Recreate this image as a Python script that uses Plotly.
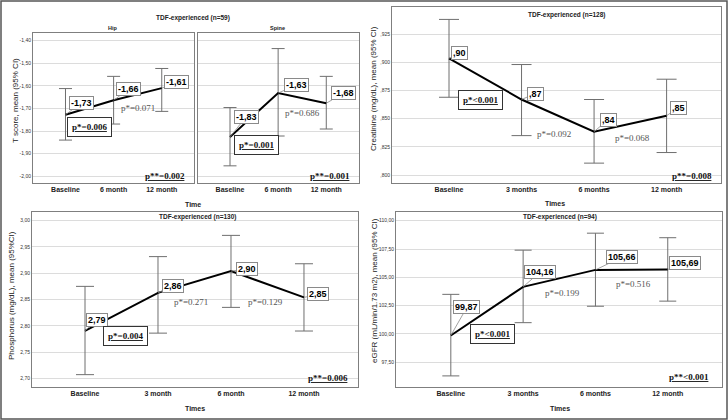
import plotly.graph_objects as go

W, H = 728, 420

# ---------------- data ----------------
tscore_cats = ["Baseline", "6 month", "12 month"]
hip_mean = [-1.728, -1.664, -1.610]
hip_hi = [-1.612, -1.558, -1.523]
hip_lo = [-1.840, -1.769, -1.713]
hip_labels = ["-1,73", "-1,66", "-1,61"]

spine_mean = [-1.826, -1.632, -1.677]
spine_hi = [-1.696, -1.435, -1.558]
spine_lo = [-1.954, -1.822, -1.791]
spine_labels = ["-1,83", "-1,63", "-1,68"]

tscore_ticks = [-2.0, -1.9, -1.8, -1.7, -1.6, -1.5, -1.4]
tscore_ticktext = ["-2,00", "-1,90", "-1,80", "-1,70", "-1,60", "-1,50", "-1,40"]

creat_cats = ["Baseline", "3 months", "6 months", "12 month"]
creat_mean = [0.9035, 0.867, 0.8385, 0.8527]
creat_hi = [0.938, 0.898, 0.867, 0.885]
creat_lo = [0.869, 0.835, 0.8106, 0.820]
creat_labels = [",90", ",87", ",84", ",85"]
creat_ticks = [0.800, 0.825, 0.850, 0.875, 0.900, 0.925]
creat_ticktext = [",800", ",825", ",850", ",875", ",900", ",925"]

phos_cats = ["Baseline", "3 month", "6 month", "12 month"]
phos_mean = [2.7905, 2.8626, 2.904, 2.854]
phos_hi = [2.875, 2.9316, 2.972, 2.918]
phos_lo = [2.707, 2.786, 2.835, 2.790]
phos_labels = ["2,79", "2,86", "2,90", "2,85"]
phos_ticks = [2.70, 2.75, 2.80, 2.85, 2.90, 2.95, 3.00]
phos_ticktext = ["2,70", "2,75", "2,80", "2,85", "2,90", "2,95", "3,00"]

egfr_cats = ["Baseline", "3 months", "6 months", "12 month"]
egfr_mean = [99.87, 104.16, 105.66, 105.69]
egfr_hi = [103.5, 107.4, 108.9, 108.5]
egfr_lo = [96.3, 101.0, 102.45, 102.9]
egfr_labels = ["99,87", "104,16", "105,66", "105,69"]
egfr_ticks = [97.5, 100.0, 102.5, 105.0, 107.5, 110.0]
egfr_ticktext = ["97,50", "100,00", "102,50", "105,00", "107,50", "110,00"]

# ---------------- helpers ----------------
def PX(x):
    return x / W


def PY(y):
    return 1 - y / H


SANS = "Liberation Sans, Arial, sans-serif"
SERIF = "Liberation Serif, Times New Roman, serif"
BOXC = "#7f7f7f"
GRID = "#dcdcdc"

fig = go.Figure()
layout = dict(
    width=W, height=H, margin=dict(l=0, r=0, t=0, b=0),
    paper_bgcolor="white", plot_bgcolor="white", showlegend=False,
    separators=",.",
)
annotations = []


def panel(idx, xdom, ydom, xrange, yrange, cats, yticks, yticktext, mean, hi, lo,
          labels, offsets, cap, showy=True):
    sfx = "" if idx == 1 else str(idx)
    xa, ya = "x" + sfx, "y" + sfx
    layout["xaxis" + sfx] = dict(
        domain=[PX(xdom[0]), PX(xdom[1])], range=xrange, anchor=ya,
        tickvals=list(range(len(cats))), ticktext=cats, showgrid=False,
        zeroline=False, showline=True, mirror=True, linecolor=BOXC, linewidth=1,
        ticks="", tickfont=dict(family=SANS, size=7, color="#222", weight="bold"),
        fixedrange=True,
    )
    layout["yaxis" + sfx] = dict(
        domain=[PY(ydom[1]), PY(ydom[0])], range=yrange, anchor=xa,
        tickvals=yticks, ticktext=yticktext, showticklabels=showy,
        showgrid=True, gridcolor=GRID, gridwidth=1, zeroline=False,
        showline=True, mirror=True, linecolor=BOXC, linewidth=1, ticks="",
        tickfont=dict(family=SANS, size=5, color="#333"), fixedrange=True,
    )
    fig.add_trace(go.Scatter(
        x=list(range(len(cats))), y=mean, mode="lines",
        line=dict(color="black", width=2),
        error_y=dict(type="data", symmetric=False,
                     array=[h - m for h, m in zip(hi, mean)],
                     arrayminus=[m - l for m, l in zip(mean, lo)],
                     color="#6f6f6f", thickness=1, width=cap),
        xaxis=xa, yaxis=ya, hoverinfo="skip",
    ))
    for i, (lab, off) in enumerate(zip(labels, offsets)):
        annotations.append(dict(
            x=i, y=mean[i], xref=xa, yref=ya, text="<b>" + lab + "</b>",
            showarrow=True, ax=off[0], ay=off[1], arrowhead=0, arrowwidth=0.8,
            arrowcolor="#8a8a8a", standoff=0, bordercolor="#8a8a8a",
            borderwidth=1, borderpad=1, bgcolor="white",
            font=dict(family=SANS, size=9, color="black"),
        ))


panel(1, (33, 194), (33, 183), [-0.675, 2.67], [-2.03, -1.366], tscore_cats,
      tscore_ticks, tscore_ticktext, hip_mean, hip_hi, hip_lo, hip_labels,
      [(16, -12), (15, -11), (15, -6)], 6.5)
panel(2, (198, 359), (33, 183), [-0.665, 2.68], [-2.03, -1.366], tscore_cats,
      tscore_ticks, tscore_ticktext, spine_mean, spine_hi, spine_lo, spine_labels,
      [(16, -20), (18, -8), (17, -10)], 6.5, showy=False)
panel(3, (392, 721), (7, 183), [-0.786, 3.75], [0.793, 0.949], creat_cats,
      creat_ticks, creat_ticktext, creat_mean, creat_hi, creat_lo, creat_labels,
      [(10, -5), (14, -6), (14, -12), (12, -8)], 10)
panel(4, (32, 358), (212, 387), [-0.726, 3.74], [2.6835, 3.0165], phos_cats,
      phos_ticks, phos_ticktext, phos_mean, phos_hi, phos_lo, phos_labels,
      [(12, -11), (15, -7), (16, -2), (14, -3)], 9)
panel(5, (396, 722), (212, 387), [-0.758, 3.75], [95.32, 110.77], egfr_cats,
      egfr_ticks, egfr_ticktext, egfr_mean, egfr_hi, egfr_lo, egfr_labels,
      [(16, -28), (17, -15), (27, -13), (17, -7)], 8.5)


def text(x, y, t, size=7, bold=True, family=SANS, color="#222", angle=0,
         xanchor="center"):
    annotations.append(dict(
        x=PX(x), y=PY(y), xref="paper", yref="paper", showarrow=False,
        text=("<b>" + t + "</b>") if bold else t, textangle=angle,
        xanchor=xanchor, yanchor="middle",
        font=dict(family=family, size=size, color=color),
    ))


def pbox(x, y, t):
    annotations.append(dict(
        x=PX(x), y=PY(y), xref="paper", yref="paper", showarrow=False,
        text="<b><u>" + t + "</u></b>", xanchor="center", yanchor="middle",
        bordercolor="#333", borderwidth=1, borderpad=4, bgcolor="white",
        font=dict(family=SERIF, size=9, color="#111"),
    ))


# titles
text(193, 18, "TDF-experienced (n=59)", size=6.5)
text(113, 28, "Hip", size=5.5)
text(277, 28, "Spine", size=5.5)
text(566, 15, "TDF-experienced (n=128)", size=6.5)
text(197, 217, "TDF-experienced (n=130)", size=6.5)
text(560, 217, "TDF-experienced (n=94)", size=6.5)

# axis titles
text(193, 204, "Time", size=7)
text(555, 203, "Times", size=7)
text(195, 408, "Times", size=7)
text(560, 408, "Times", size=7)
text(15, 101, "T score, mean (95% CI)", size=8, bold=False, angle=-90)
text(373, 88, "Creatinine (mg/dL), mean (95% CI)", size=8, bold=False, angle=-90)
text(11, 296, "Phosphorus (mg/dL), mean (95%CI)", size=8, bold=False, angle=-90)
text(374, 290, "eGFR (mL/min/1.73 m2), mean (95% CI)", size=8, bold=False, angle=-90)

# p-values (plain)
for (x, y, t) in [(138, 108, "p*=0.071"), (302, 113, "p*=0.686"),
                  (554, 134, "p*=0.092"), (632, 138, "p*=0.068"),
                  (191, 302, "p*=0.271"), (265, 302, "p*=0.129"),
                  (562, 293, "p*=0.199"), (633, 284, "p*=0.516")]:
    text(x, y, t, size=9, bold=False, family=SERIF, color="#555")

# p-values (boxed)
pbox(89, 127, "p*=0.006")
pbox(256, 145, "p*=0.001")
pbox(480.5, 100, "p*&lt;0.001")
pbox(125, 336, "p*=0.004")
pbox(492.5, 334, "p*&lt;0.001")

# overall p-values
for (x, y, t) in [(187, 176, "p**=0.002"), (352, 176, "p**=0.001"),
                  (714, 176, "p**=0.008"), (350, 378, "p**=0.006"),
                  (711, 377, "p**&lt;0.001")]:
    annotations.append(dict(
        x=PX(x), y=PY(y), xref="paper", yref="paper", showarrow=False,
        text="<b><u>" + t + "</u></b>", xanchor="right", yanchor="middle",
        font=dict(family=SERIF, size=9, color="#111"),
    ))

layout["annotations"] = annotations
layout["shapes"] = [dict(type="rect", xref="paper", yref="paper",
                         x0=PX(1), x1=PX(727), y0=PY(419), y1=PY(1),
                         line=dict(color="#555", width=1.5))]
fig.update_layout(**layout)
fig.write_html(
    "out.html",
    config={"displayModeBar": False},
    post_script="document.body.style.margin='0';document.body.style.overflow='hidden';",
)
